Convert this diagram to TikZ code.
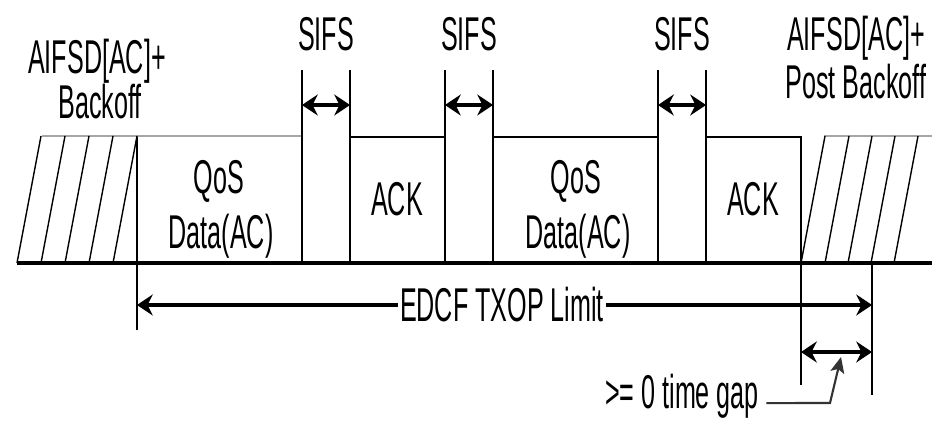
\documentclass[tikz,border=0pt]{standalone}
\usepackage{fontspec}
\newfontfamily\narrowsf{Liberation Sans}[FakeStretch=0.53]
\usetikzlibrary{
    arrows.meta,
    positioning
}
\tikzset{
  lbl/.style   = {font=\narrowsf\fontsize{27}{29}\selectfont, inner sep=0pt},
  frame/.style = {line width=1.2pt},
  hatch/.style = {line width=0.8pt},
  medium/.style = {line width=2.8pt},
  dim/.style   = {{Stealth[length=9pt,width=12pt,inset=3pt]}-{Stealth[length=9pt,width=12pt,inset=3pt]},
                  line width=2.5pt},
  lim/.style   = {-{Stealth[length=9pt,width=12pt,inset=3pt]}, line width=2.5pt},
  lead/.style  = {-{Stealth[length=9pt,width=8pt,inset=2pt]}, line width=1.2pt, black!80}
}

\begin{document}
\begin{tikzpicture}[x=0.02cm, y=-0.02cm]
    \useasboundingbox (0,0) rectangle (939,420);

    % medium
    \draw[medium] (17,263) -- (932,263);

    % backoff before the burst
    \draw[frame, gray!70] (42,136) -- (302,136);
    \foreach \x in {17,41,65,89,113}
      \draw[hatch] (\x,263) -- (\x+24,136);

    % frames and SIFS gaps
    \draw[frame] (137,330) -- (137,137);
    \foreach \x in {302,350,445,493,658,706}
      \draw[frame] (\x,70) -- (\x,263);
    \draw[frame] (350,137) -- (445,137);
    \draw[frame] (493,137) -- (658,137);
    \draw[frame] (706,137) -- (801,137) -- (801,385);
    \draw[frame] (872,263) -- (872,395);

    % post backoff
    \draw[frame, gray!70] (824,136) -- (932,136);
    \foreach \x in {801,825,848,871,894}
      \draw[hatch] (\x,263) -- (\x+24,136);

    % labels
    \node[lbl, anchor=base] (aifs1) at (97,73)  {AIFSD[AC]+};
    \node[lbl, anchor=base] (bo1)   at (100,118) {Backoff};
    \node[lbl, anchor=base] (aifs2) at (856,50) {AIFSD[AC]+};
    \node[lbl, anchor=base] (bo2)   at (856,98) {Post Backoff};

    \node[lbl, anchor=base] (qos1)  at (219,193) {QoS};
    \node[lbl, anchor=base] (dat1)  at (221,248) {Data(AC)};
    \node[lbl, anchor=base] (ack1)  at (397,215) {ACK};
    \node[lbl, anchor=base] (qos2)  at (576,193) {QoS};
    \node[lbl, anchor=base] (dat2)  at (578,248) {Data(AC)};
    \node[lbl, anchor=base] (ack2)  at (753,215) {ACK};

    % SIFS arrows
    \foreach \a/\b/\n in {302/350/1, 445/493/2, 658/706/3} {
      \coordinate (sifsL\n) at (\a,105);
      \coordinate (sifsR\n) at (\b,105);
      \draw[dim] (sifsL\n) -- (sifsR\n);
      \node[lbl, anchor=base] (sifs\n) at ({(\a+\b)/2},50) {SIFS};
    }

    % TXOP limit
    \coordinate (limL) at (137,305);
    \coordinate (limR) at (872,305);
    \node[lbl, inner xsep=1pt] (txop) at (502,305) {EDCF TXOP Limit};
    \draw[lim] (txop.west) -- (limL);
    \draw[lim] (txop.east) -- (limR);

    % time gap
    \coordinate (gapL) at (801,352);
    \coordinate (gapR) at (872,352);
    \draw[dim] (gapL) -- (gapR);
    \node[lbl, anchor=base] (gaplbl) at (682,408) {>= 0 time gap};
    \coordinate (bend) at (830,403);
    \coordinate (gaptip) at (841,357);
    \draw[lead] ([xshift=4pt,yshift=2.8pt]gaplbl.base east) -- (bend) -- (gaptip);
\end{tikzpicture}
\end{document}
